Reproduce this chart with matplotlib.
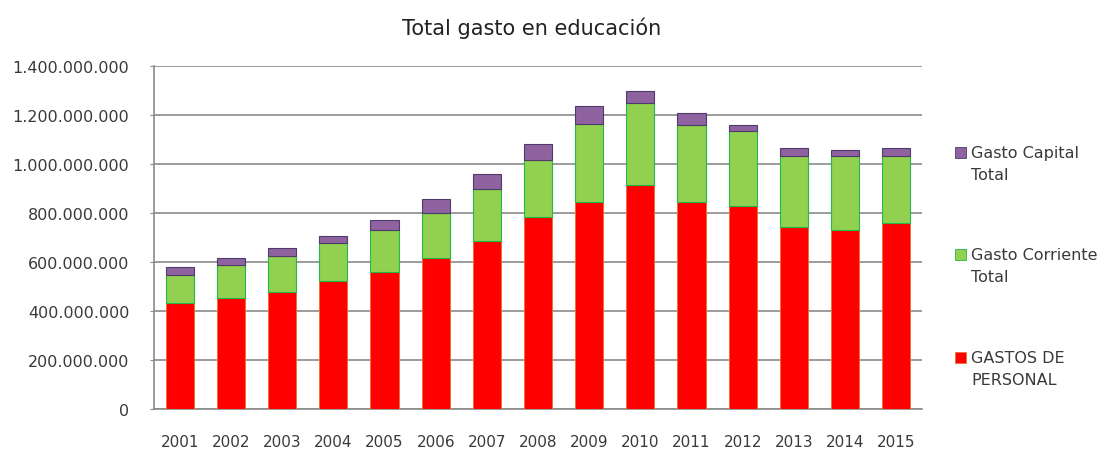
import matplotlib
matplotlib.use("Agg")
import matplotlib.pyplot as plt
from matplotlib.ticker import FuncFormatter, MultipleLocator
from matplotlib.patches import Rectangle
import numpy as np

years = ["2001", "2002", "2003", "2004", "2005", "2006", "2007", "2008",
         "2009", "2010", "2011", "2012", "2013", "2014", "2015"]
# stacked segment heights (millions)
gastos_personal = [432, 451, 477, 522, 560, 614, 684, 782, 846, 914, 846, 827, 744, 730, 757]
gasto_corriente = [116, 136, 148, 156, 170, 187, 213, 232, 316, 334, 312, 306, 289, 303, 276]
gasto_capital = [30, 29, 30, 29, 41, 54, 61, 68, 75, 49, 48, 27, 31, 24, 31]

labels = ["GASTOS DE\nPERSONAL", "Gasto Corriente\nTotal", "Gasto Capital\nTotal"]
colors = ["#FF0000", "#92D050", "#8E63A0"]
edges = ["#F07030", "#22B84A", "#4F3B6A"]

plt.rcParams['font.family'] = ['DejaVu Sans']
fig = plt.figure(figsize=(11.1, 4.52), dpi=100)
ax = fig.add_axes([0.139, 0.0929, 0.8304 - 0.139, 0.8524 - 0.0929])

x = np.arange(len(years))
p = np.array(gastos_personal) * 1e6
c = np.array(gasto_corriente) * 1e6
k = np.array(gasto_capital) * 1e6
w = 0.55
ax.bar(x, p, width=w, color=colors[0], edgecolor=edges[0], linewidth=0.7, zorder=3)
ax.bar(x, c, width=w, bottom=p, color=colors[1], edgecolor=edges[1], linewidth=0.8, zorder=3)
ax.bar(x, k, width=w, bottom=p + c, color=colors[2], edgecolor=edges[2], linewidth=0.8, zorder=3)

ax.set_xlim(-0.5, len(years) - 0.5)
ax.set_ylim(0, 1.4e9)
ax.yaxis.set_major_locator(MultipleLocator(2e8))
ax.yaxis.set_major_formatter(FuncFormatter(lambda v, pos: f"{int(round(v)):,}".replace(",", ".")))
ax.set_xticks(x)
ax.set_xticklabels(years)
ax.grid(axis='y', color='#8a8a8a', linewidth=1.2, zorder=0)
ax.set_axisbelow(True)
for s in ['top', 'right']:
    ax.spines[s].set_visible(False)
for s in ['left', 'bottom']:
    ax.spines[s].set_color('#8a8a8a')
    ax.spines[s].set_linewidth(1.2)
ax.tick_params(axis='y', length=3, color='#8a8a8a', labelsize=11.5, labelcolor='#3a3a3a', pad=15)
ax.tick_params(axis='x', length=0, labelsize=11, labelcolor='#3a3a3a', pad=18)

fig.text(0.479, 0.938, "Total gasto en educación", ha='center', va='center',
         fontsize=15, color='#222222')

# legend drawn manually (top to bottom: capital, corriente, personal)
leg_y = [153, 255, 358]
order = [2, 1, 0]
for yy, i in zip(leg_y, order):
    fy = 1 - yy / 452
    fig.patches.append(Rectangle((955 / 1110, fy - 5.5 / 452), 11 / 1110, 11 / 452,
                                 transform=fig.transFigure, facecolor=colors[i],
                                 edgecolor=edges[i], linewidth=0.6))
    fig.text(971 / 1110, fy + 7 / 452, labels[i], ha='left', va='top', fontsize=11.5,
             color='#3a3a3a', linespacing=1.55, transform=fig.transFigure)

fig.savefig("out.png", dpi=100)
